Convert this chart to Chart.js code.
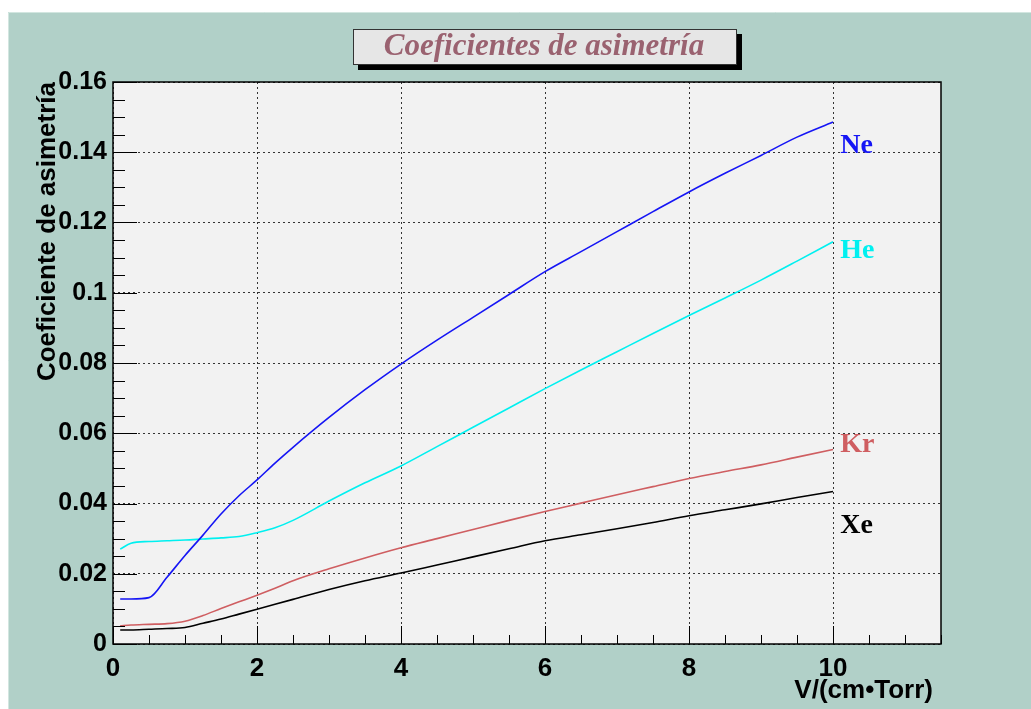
<!DOCTYPE html>
<html>
<head>
<meta charset="utf-8">
<script src="https://cdn.jsdelivr.net/npm/chart.js@4.4.1/dist/chart.umd.min.js"></script>
<style>
  html, body { margin: 0; padding: 0; background: #ffffff; }
  #wrap { width: 1031px; height: 709px; }
</style>
</head>
<body>
<div id="wrap"><canvas id="asimetria" width="1031" height="709"></canvas></div>
<script>
// Voltage reduced field V/(cm*Torr)
const xValues = [0.1, 0.25, 0.5, 0.75, 1, 1.25, 1.5, 1.75, 2, 2.25, 2.5, 3, 3.5, 4, 4.5, 5, 5.5, 6, 6.5, 7, 7.5, 8, 8.5, 9, 9.5, 10];

const neValues = [0.0128, 0.0128, 0.0132, 0.019, 0.0252, 0.031, 0.037, 0.0422, 0.0467, 0.0515, 0.056, 0.0645, 0.0724, 0.0797, 0.0865, 0.093, 0.0995, 0.106, 0.1117, 0.1174, 0.1231, 0.1287, 0.134, 0.1391, 0.1443, 0.1486];
const heValues = [0.027, 0.0287, 0.0292, 0.0294, 0.0296, 0.0299, 0.0302, 0.0306, 0.0317, 0.0331, 0.0352, 0.0407, 0.0459, 0.0507, 0.0562, 0.0617, 0.0672, 0.0727, 0.078, 0.0832, 0.0884, 0.0935, 0.0985, 0.1036, 0.109, 0.1145];
const krValues = [0.0052, 0.0054, 0.0056, 0.0058, 0.0065, 0.0081, 0.0101, 0.012, 0.0139, 0.0159, 0.018, 0.0214, 0.0245, 0.0274, 0.03, 0.0326, 0.0352, 0.0377, 0.0401, 0.0425, 0.0448, 0.0471, 0.0491, 0.051, 0.0532, 0.0554];
const xeValues = [0.004, 0.004, 0.0042, 0.0044, 0.0047, 0.0059, 0.0071, 0.0085, 0.0099, 0.0113, 0.0127, 0.0155, 0.018, 0.0202, 0.0225, 0.0248, 0.0271, 0.0294, 0.0311, 0.0328, 0.0346, 0.0365, 0.0382, 0.0399, 0.0417, 0.0434];

const gasNames = ["Ne", "He", "Kr", "Xe"];
const gasColors = ["#1515f5", "#00f0f0", "#cf5e61", "#000000"];
// where the gas name sits, in data units
const gasLabelX = [10.1, 10.1, 10.1, 10.1];
const gasLabelY = [0.1397, 0.1098, 0.0546, 0.0316];

const xTicks = [0, 2, 4, 6, 8, 10];
const xMinorTicks = [0.5, 1, 1.5, 2.5, 3, 3.5, 4.5, 5, 5.5, 6.5, 7, 7.5, 8.5, 9, 9.5, 10.5, 11, 11.5];
const yTicks = [0, 0.02, 0.04, 0.06, 0.08, 0.1, 0.12, 0.14, 0.16];
const yMinorStep = 0.005;

const chartTitle = "Coeficientes de asimetría";
const xTitle = "V/(cm\u2022Torr)";
const yTitle = "Coeficiente de asimetría";

const toPoints = (vals) => xValues.map((x, i) => ({ x: x, y: vals[i] }));
const allSeries = [neValues, heValues, krValues, xeValues];

const rootLook = {
  id: "rootLook",
  beforeDraw(chart) {
    const ctx = chart.ctx;
    const a = chart.chartArea;
    ctx.save();
    ctx.fillStyle = "#ffffff";
    ctx.fillRect(0, 0, chart.width, chart.height);
    ctx.fillStyle = "#b1d0c8";
    ctx.fillRect(8, 12, chart.width - 8, chart.height - 12);
    ctx.strokeStyle = "#d2e6e0";
    ctx.lineWidth = 1;
    ctx.beginPath();
    ctx.moveTo(8.5, chart.height);
    ctx.lineTo(8.5, 12.5);
    ctx.lineTo(chart.width, 12.5);
    ctx.stroke();
    ctx.fillStyle = "#f2f2f2";
    ctx.fillRect(a.left, a.top, a.right - a.left, a.bottom - a.top);
    ctx.restore();
  },
  afterDraw(chart) {
    const ctx = chart.ctx;
    const a = chart.chartArea;
    const xs = chart.scales.x;
    const ys = chart.scales.y;
    ctx.save();
    ctx.strokeStyle = "#000000";
    ctx.lineWidth = 1;

    // ticks pointing inwards
    ctx.beginPath();
    xTicks.forEach((v) => {
      const px = Math.round(xs.getPixelForValue(v)) + 0.5;
      ctx.moveTo(px, a.bottom);
      ctx.lineTo(px, a.bottom - 18);
    });
    xMinorTicks.forEach((v) => {
      const px = Math.round(xs.getPixelForValue(v)) + 0.5;
      ctx.moveTo(px, a.bottom);
      ctx.lineTo(px, a.bottom - 9);
    });
    for (let v = 0; v <= 0.16 + 1e-9; v += yMinorStep) {
      const py = Math.round(ys.getPixelForValue(v)) + 0.5;
      const major = Math.abs(v / 0.02 - Math.round(v / 0.02)) < 1e-6;
      ctx.moveTo(a.left, py);
      ctx.lineTo(a.left + (major ? 24 : 12), py);
    }
    ctx.stroke();

    // frame
    ctx.lineWidth = 1.5;
    ctx.strokeRect(a.left, a.top, a.right - a.left, a.bottom - a.top);

    // gas labels
    ctx.font = "bold 28px 'Liberation Serif', serif";
    ctx.textAlign = "left";
    ctx.textBaseline = "alphabetic";
    gasNames.forEach((name, i) => {
      ctx.fillStyle = gasColors[i];
      ctx.fillText(name, xs.getPixelForValue(gasLabelX[i]), ys.getPixelForValue(gasLabelY[i]));
    });

    // axis titles
    ctx.fillStyle = "#000000";
    ctx.font = "bold 26px 'Liberation Sans', Arial, sans-serif";
    ctx.textAlign = "right";
    ctx.fillText(xTitle, 933, 698);
    ctx.save();
    ctx.translate(55, 82);
    ctx.rotate(-Math.PI / 2);
    ctx.fillText(yTitle, 0, 0);
    ctx.restore();

    // title box with shadow
    ctx.fillStyle = "#000000";
    ctx.fillRect(358, 34, 384, 36);
    ctx.fillStyle = "#e6e6e6";
    ctx.fillRect(353, 29, 384, 36);
    ctx.lineWidth = 1;
    ctx.strokeStyle = "#333333";
    ctx.strokeRect(353.5, 29.5, 383, 35);
    ctx.fillStyle = "#9a6270";
    ctx.font = "italic bold 31px 'Liberation Serif', serif";
    ctx.textAlign = "center";
    ctx.fillText(chartTitle, 544, 55);
    ctx.restore();
  },
};

new Chart(document.getElementById("asimetria"), {
  type: "line",
  data: {
    datasets: gasNames.map((name, i) => ({
      label: name,
      data: toPoints(allSeries[i]),
      borderColor: gasColors[i],
      borderWidth: 1.6,
      pointRadius: 0,
      fill: false,
      cubicInterpolationMode: "monotone",
    })),
  },
  options: {
    responsive: false,
    devicePixelRatio: 1,
    animation: false,
    layout: { padding: { left: 0, top: 82, right: 90, bottom: 0 } },
    plugins: { legend: { display: false }, tooltip: { enabled: false } },
    scales: {
      x: {
        type: "linear",
        min: 0,
        max: 11.5,
        afterBuildTicks: (scale) => { scale.ticks = xTicks.map((v) => ({ value: v })); },
        afterFit: (scale) => { scale.height = 65; },
        grid: { color: "#333333", lineWidth: 1, drawTicks: false },
        border: { display: false, dash: [2, 3] },
        ticks: {
          color: "#000000",
          padding: 9,
          maxRotation: 0,
          font: { family: "'Liberation Sans', Arial, sans-serif", weight: "bold", size: 26 },
        },
      },
      y: {
        min: 0,
        max: 0.16,
        afterBuildTicks: (scale) => { scale.ticks = yTicks.map((v) => ({ value: v })); },
        afterFit: (scale) => { scale.width = 113; },
        grid: { color: "#333333", lineWidth: 1, drawTicks: false },
        border: { display: false, dash: [2, 3] },
        ticks: {
          color: "#000000",
          padding: 6,
          callback: (v) => String(Math.round(v * 100) / 100),
          font: { family: "'Liberation Sans', Arial, sans-serif", weight: "bold", size: 25 },
        },
      },
    },
  },
  plugins: [rootLook],
});
</script>
</body>
</html>
